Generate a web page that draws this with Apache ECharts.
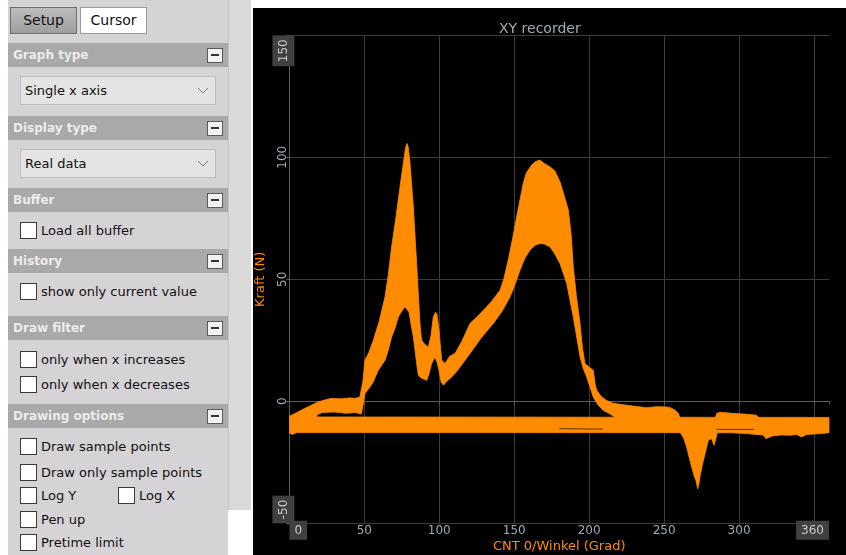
<!DOCTYPE html>
<html><head><meta charset="utf-8">
<script src="https://cdn.jsdelivr.net/npm/echarts@6/dist/echarts.min.js"></script>
<style>
body{margin:0;width:846px;height:555px;background:#fff;overflow:hidden;font-family:"DejaVu Sans",sans-serif;position:relative}
#panel{position:absolute;left:8px;top:0;width:220px;height:555px;background:#d6d3d6}
#strip{position:absolute;left:228px;top:0;width:22px;height:510px;background:#dadada;border-left:1px solid #c4c4c4}
.btn{position:absolute;top:7px;height:25px;width:65px;font-size:14px;line-height:25px;text-align:center;color:#111}
.hdr{position:absolute;left:8px;width:220px;height:24px;background:#a9a9a9;color:#ececec;font-weight:bold;font-size:12px;line-height:24px}
.hdr span{position:absolute;left:5px}
.minus{position:absolute;left:199px;top:5px;width:14px;height:13px;background:#f2f2f2;border:1px solid #5a5a5a}
.minus:after{content:'';position:absolute;left:3px;top:5px;width:8px;height:2px;background:#333}
.dd{position:absolute;left:20px;width:194px;height:27px;background:#e4e4e4;border:1px solid #bdbdbd;font-size:13px;line-height:27px;color:#111}
.dd span{position:absolute;left:4px}
.dd svg{position:absolute;left:176px;top:10px}
.cb{position:absolute;width:15px;height:15px;background:#fff;border:1px solid #3a3a3a}
.lbl{position:absolute;font-size:13px;color:#111;line-height:17px}
#chart{position:absolute;left:253px;top:8px;width:593px;height:547px;background:#000}
</style></head>
<body>
<div id="panel"></div>
<div id="strip"></div>
<div class="btn" style="left:10px;background:linear-gradient(#bdbdbd,#9e9e9e);border:1px solid #6e6e6e">Setup</div>
<div class="btn" style="left:80px;background:#fff;border:1px solid #9a9a9a">Cursor</div>

<div class="hdr" style="top:43px"><span>Graph type</span><div class="minus"></div></div>
<div class="dd" style="top:76px"><span>Single x axis</span><svg width="12" height="8"><polyline points="1,1 6,6 11,1" fill="none" stroke="#777" stroke-width="1"/></svg></div>
<div class="hdr" style="top:116px"><span>Display type</span><div class="minus"></div></div>
<div class="dd" style="top:149px"><span>Real data</span><svg width="12" height="8"><polyline points="1,1 6,6 11,1" fill="none" stroke="#777" stroke-width="1"/></svg></div>
<div class="hdr" style="top:188px"><span>Buffer</span><div class="minus"></div></div>
<div class="cb" style="left:20px;top:222px"></div><div class="lbl" style="left:41px;top:222px">Load all buffer</div>
<div class="hdr" style="top:249px"><span>History</span><div class="minus"></div></div>
<div class="cb" style="left:20px;top:283px"></div><div class="lbl" style="left:41px;top:283px">show only current value</div>
<div class="hdr" style="top:316px"><span>Draw filter</span><div class="minus"></div></div>
<div class="cb" style="left:20px;top:351px"></div><div class="lbl" style="left:41px;top:351px">only when x increases</div>
<div class="cb" style="left:20px;top:376px"></div><div class="lbl" style="left:41px;top:376px">only when x decreases</div>
<div class="hdr" style="top:404px"><span>Drawing options</span><div class="minus"></div></div>
<div class="cb" style="left:20px;top:438px"></div><div class="lbl" style="left:41px;top:438px">Draw sample points</div>
<div class="cb" style="left:20px;top:464px"></div><div class="lbl" style="left:41px;top:464px">Draw only sample points</div>
<div class="cb" style="left:20px;top:487px"></div><div class="lbl" style="left:41px;top:487px">Log Y</div>
<div class="cb" style="left:118px;top:487px"></div><div class="lbl" style="left:139px;top:487px">Log X</div>
<div class="cb" style="left:20px;top:511px"></div><div class="lbl" style="left:41px;top:511px">Pen up</div>
<div class="cb" style="left:20px;top:534px"></div><div class="lbl" style="left:41px;top:534px">Pretime limit</div>

<div id="chart"></div>
<script>
// ---- data ----
const xTickLabels = [0, 50, 100, 150, 200, 250, 300, 360];
const yTickLabels = [-50, 0, 50, 100, 150];

// forward stroke: upper envelope of the traces [angle, force]
const fwdUpper = [[0,-6],[2,-5.5],[5,-4.6],[10,-3],[15,-1.5],[19,-0.3],[24,0.6],[28,1.2],[35,1.0],[40,1.4],[44,1.2],[47,1.8],[49,8],[50.4,16.8],[53,20],[56,25],[60,33],[63.8,42.8],[66,52],[68.2,63.3],[71,75],[73.8,87.9],[76,97.5],[77.5,104],[78.5,105.7],[79.3,104],[80.4,98.2],[82.7,79.7],[84.9,56.5],[87.1,31.9],[88.2,25],[90,23.5],[92.7,22.3],[94.5,27],[96,34.6],[97.5,36.5],[98.5,35.5],[99.8,29.1],[101.6,16.8],[103.8,15.5],[107,18.5],[110.5,19.6],[115,24.5],[120.5,31.9],[125,34.5],[129.4,37.3],[135,41],[140.5,45.5],[143,50],[146,57.9],[149,67],[151.6,75.6],[154,83],[156,89.3],[158,93.5],[161.6,96.8],[164,98.2],[167.2,98.9],[170,97.5],[173.8,96.1],[177,94.5],[180.5,90],[183,85],[186.1,78.4],[188,68],[189.4,55.1],[191.5,43],[193.9,31.9],[195.5,22],[197.2,15.5],[200,14],[202.7,12.7],[204,7],[205,4.5],[208,2],[211.7,0.3],[216,-0.8],[222.8,-1.4],[230,-2],[238.4,-2.6],[245,-2.2],[251.7,-2.3],[255,-2.8],[257.5,-3.8],[259.5,-5],[261,-7.5],[284,-7.5],[285,-5],[287.3,-4.5],[295,-4.9],[303,-5.2],[311.7,-5.7],[314,-7.5]];

// forward stroke: lower envelope of the traces [angle, force]
const fwdLower = [[0,-9],[17,-9],[18.5,-5.5],[22,-4.6],[30,-4.4],[38,-4.9],[44,-4.6],[48,-5.2],[49,-2],[50.4,3.2],[53.8,5.9],[56,8],[59.3,12.7],[63.8,16.8],[66,21],[68.2,26.4],[70.5,30],[72.7,34.6],[75,37],[77.1,38.7],[79.8,36.6],[81,32],[82.7,26.4],[84.9,15.5],[86,10.7],[88,9.5],[91.6,8.6],[93,11],[94.9,15.5],[97.1,18.2],[98.5,16],[99.8,12.7],[101.2,8],[102.7,6.6],[105,8.2],[108.3,10],[112,12.5],[120.5,19.6],[128,26],[136,31.9],[142,37],[147.2,42.8],[150,47],[153.8,53.7],[157,58.5],[160.5,62],[164,64],[167.2,64.7],[170,64.5],[173.8,63.3],[177,60.5],[180.5,56.5],[183,52],[185,48.3],[187,42],[189.4,34.6],[191.5,27],[193.9,18.2],[196,13.5],[198.3,10],[200.5,6],[202.7,1.8],[206,-1.5],[209.4,-3.7],[214,-5.2],[218.3,-7],[220,-9],[259,-9],[261,-13],[263,-15],[265,-18.7],[266.7,-23],[268.4,-27],[270,-30.5],[271.2,-32.4],[272.4,-35.8],[273.2,-34],[273.9,-31],[275.5,-26],[277.3,-21.5],[279.5,-16],[281.7,-15.3],[283.3,-18],[285.1,-14],[286,-9],[314,-9]];

// return stroke (flat band) [angle, force]
const retTop = [[0,-6.4],[360,-6.6]];
const retBottom = [[0,-13],[2,-13.6],[5,-12.8],[100,-12.8],[295,-12.9],[305,-13.2],[312.8,-13.7],[316,-13.8],[318,-15.3],[322,-14.2],[328,-13.8],[335,-13.9],[338,-13.5],[341.7,-14.6],[345,-13.6],[353,-13.3],[360,-12.9]];

// dark gaps visible inside the return band
const darkGap = [[180,-11.2],[209,-11.4],[250,'-'],[285,-11.5],[310,-11.5]];

// ---- chart ----
const ORANGE = '#ff8c00';
const fwdPoly = fwdUpper.concat(fwdLower.slice().reverse());
const retPoly = retTop.concat(retBottom.slice().reverse());

function polySeries(name, pts) {
  return {
    type: 'custom', name: name, coordinateSystem: 'cartesian2d',
    data: pts, encode: {x: 0, y: 1}, clip: true, silent: true, animation: false,
    renderItem: function (params, api) {
      if (params.context.rendered) return;
      params.context.rendered = true;
      const points = pts.map(p => api.coord(p));
      return {type: 'polygon', shape: {points: points},
              style: {fill: ORANGE, stroke: ORANGE, lineWidth: 0.8}};
    }
  };
}

const labelColor = '#9fa9b4';
const boxRich = {
  n: {color: labelColor, fontSize: 12, fontFamily: 'DejaVu Sans', lineHeight: 14, padding: [4, 5, 3, 5]},
  b: {color: '#c8ccd0', fontSize: 12, fontFamily: 'DejaVu Sans', lineHeight: 14, padding: [4, 5, 3, 5], backgroundColor: '#404040'}
};
const boxRichY = {
  n: {color: labelColor, fontSize: 12, fontFamily: 'DejaVu Sans', lineHeight: 12, padding: [5, 4, 6, 4]},
  b: {color: '#c8ccd0', fontSize: 12, fontFamily: 'DejaVu Sans', lineHeight: 12, padding: [5, 4, 5, 4], backgroundColor: '#404040'}
};

const chart = echarts.init(document.getElementById('chart'));
chart.setOption({
  backgroundColor: '#000',
  animation: false,
  title: {
    text: 'XY recorder', left: 241, top: 9,
    textStyle: {color: '#a4acb4', fontSize: 14, fontWeight: 'normal', fontFamily: 'DejaVu Sans'}
  },
  grid: {left: 36.4, right: 17, top: 27.3, bottom: 31.7, outerBoundsMode: 'none', containLabel: false},
  xAxis: {
    type: 'value', min: 0, max: 360, interval: 50,
    name: 'CNT 0/Winkel (Grad)', nameLocation: 'middle', nameGap: 17, nameMoveOverlap: false,
    nameTextStyle: {color: ORANGE, fontSize: 13, fontFamily: 'DejaVu Sans'},
    axisLine: {show: true, lineStyle: {color: '#5e5e5e', width: 1}},
    axisTick: {show: true, length: 3, lineStyle: {color: '#5e5e5e'}},
    splitLine: {show: true, showMaxLine: false, lineStyle: {color: '#3c3c3c', width: 1}},
    axisLabel: {
      margin: 0, showMinLabel: true, showMaxLabel: true,
      alignMinLabel: 'left', alignMaxLabel: 'right', rich: boxRich,
      formatter: function (v) {
        if (xTickLabels.indexOf(v) < 0) return '';
        if (v === xTickLabels[0] || v === xTickLabels[xTickLabels.length - 1]) return '{b|' + v + '}';
        return '{n|' + v + '}';
      }
    }
  },
  yAxis: {
    type: 'value', min: -50, max: 150, interval: 50,
    name: 'Kraft (N)', nameLocation: 'middle', nameGap: 22, nameMoveOverlap: false,
    nameTextStyle: {color: ORANGE, fontSize: 13, fontFamily: 'DejaVu Sans'},
    axisLine: {show: true, lineStyle: {color: '#5e5e5e', width: 1}},
    axisTick: {show: true, length: 3, lineStyle: {color: '#6a6a6a'}},
    splitLine: {show: true, lineStyle: {color: '#3c3c3c', width: 1}},
    axisLabel: {
      rotate: 90, margin: 0, showMinLabel: true, showMaxLabel: true,
      alignMinLabel: 'left', alignMaxLabel: 'right', rich: boxRichY,
      formatter: function (v) {
        if (yTickLabels.indexOf(v) < 0) return '';
        if (v === yTickLabels[0] || v === yTickLabels[yTickLabels.length - 1]) return '{b|' + v + '}';
        return '{n|' + v + '}';
      }
    }
  },
  series: [
    polySeries('return', retPoly),
    polySeries('forward', fwdPoly),
    {type: 'line', data: darkGap, symbol: 'none', silent: true, connectNulls: false,
     lineStyle: {color: '#5a3200', width: 1}}
  ]
});
</script>
</body></html>
